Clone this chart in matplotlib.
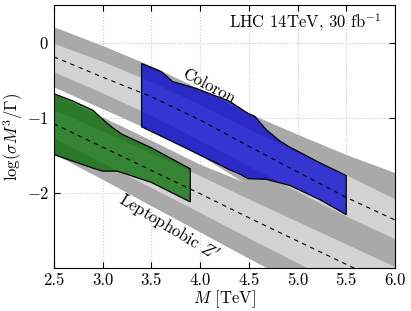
import numpy as np
import matplotlib
matplotlib.use("Agg")
from matplotlib import pyplot as plt

plt.rcParams["mathtext.fontset"] = "cm"
plt.rcParams["font.family"] = "serif"
plt.rcParams["font.serif"] = ["cmr10", "DejaVu Serif"]
plt.rcParams["axes.formatter.use_mathtext"] = True

# ---------------------------------------------------
# Bands: mass grid and band edges
# ---------------------------------------------------
mass = [2.5, 3.0, 3.5, 4.0, 4.5, 5.0, 5.5, 6.0]

col_center = [-0.19, -0.46, -0.72, -1.03, -1.38, -1.72, -2.06, -2.36]
col_dark_hi = [0.21, -0.04, -0.31, -0.62, -0.94, -1.22, -1.49, -1.73]
col_light_hi = [-0.01, -0.25, -0.52, -0.83, -1.15, -1.46, -1.76, -2.08]
col_light_lo = [-0.39, -0.67, -0.97, -1.30, -1.64, -1.98, -2.31, -2.61]
col_dark_lo = [-0.59, -0.88, -1.17, -1.50, -1.90, -2.30, -2.65, -2.95]

lep_center = [-1.08, -1.39, -1.70, -2.01, -2.33, -2.64, -2.95, -3.26]
lep_dark_hi = [-0.68, -0.99, -1.30, -1.62, -1.88, -2.15, -2.45, -2.72]
lep_light_hi = [-0.89, -1.18, -1.47, -1.77, -2.08, -2.38, -2.68, -2.98]
lep_light_lo = [-1.27, -1.60, -1.93, -2.26, -2.60, -2.93, -3.27, -3.60]
lep_dark_lo = [-1.48, -1.82, -2.17, -2.52, -2.87, -3.21, -3.56, -3.90]

# ---------------------------------------------------
# Reach regions (polygons)
# ---------------------------------------------------
col_top_m = [3.4, 3.6, 3.72, 3.96, 4.3, 4.49, 4.56, 4.68, 4.82, 4.92, 5.23, 5.5]
col_top_y = [-0.28, -0.385, -0.52, -0.61, -0.78, -0.94, -0.98, -1.16, -1.31, -1.39, -1.60, -1.77]
col_bot_m = [3.4, 3.8, 4.1, 4.3, 4.41, 4.49, 4.68, 4.92, 5.23, 5.5]
col_bot_y = [-1.12, -1.37, -1.56, -1.69, -1.75, -1.81, -1.82, -1.90, -2.09, -2.29]

lep_top_m = [2.5, 2.7, 2.9, 3.0, 3.1, 3.2, 3.5, 3.9]
lep_top_y = [-0.68, -0.78, -0.90, -1.02, -1.13, -1.22, -1.40, -1.68]
lep_bot_m = [2.5, 2.7, 2.9, 3.0, 3.15, 3.5, 3.9]
lep_bot_y = [-1.49, -1.58, -1.67, -1.71, -1.71, -1.86, -2.12]

dark_grey = "#a9a9a9"
light_grey = "#d3d3d3"

fig = plt.figure(figsize=(4.11, 3.11), dpi=100)
ax = fig.add_axes([0.131, 0.138, 0.830, 0.846])

# grey bands
ax.fill_between(mass, lep_dark_lo, lep_dark_hi, color=dark_grey, lw=0, zorder=1)
ax.fill_between(mass, lep_light_lo, lep_light_hi, color=light_grey, lw=0, zorder=1)
ax.fill_between(mass, col_dark_lo, col_dark_hi, color=dark_grey, lw=0, zorder=1)
ax.fill_between(mass, col_light_lo, col_light_hi, color=light_grey, lw=0, zorder=1)

# coloured reach regions
ax.fill(col_top_m + col_bot_m[::-1], col_top_y + col_bot_y[::-1],
        facecolor=(0, 0, 0.82, 0.75), edgecolor="black", lw=0.9, zorder=2)
ax.fill(lep_top_m + lep_bot_m[::-1], lep_top_y + lep_bot_y[::-1],
        facecolor=(0, 0.42, 0, 0.75), edgecolor="black", lw=0.9, zorder=2)

# central lines
ax.plot(mass, col_center, color="black", ls="--", lw=0.8, dashes=(4, 4), zorder=3)
ax.plot(mass, lep_center, color="black", ls="--", lw=0.8, dashes=(4, 4), zorder=3)

ax.text(4.09, -0.58, "Coloron", rotation=-28, ha="center", va="center",
        fontsize=12, zorder=4)
ax.text(3.67, -2.47, r"Leptophobic $Z'$", rotation=-31, ha="center", va="center",
        fontsize=12, zorder=4)
ax.text(5.86, 0.27, r"LHC 14TeV, 30 fb$^{-1}$", ha="right", va="center",
        fontsize=12, zorder=4)

ax.set_xlim(2.5, 6.0)
ax.set_ylim(-3.0, 0.5)
ax.set_xticks([2.5, 3.0, 3.5, 4.0, 4.5, 5.0, 5.5, 6.0])
ax.set_xticklabels(["2.5", "3.0", "3.5", "4.0", "4.5", "5.0", "5.5", "6.0"])
ax.set_yticks([-2, -1, 0])
ax.set_yticklabels([r"$-2$", r"$-1$", r"$0$"])
ax.tick_params(direction="in", top=True, right=True, labelsize=12, length=4)
ax.grid(True, color="#c8c8c8", ls=":", lw=0.8, zorder=0)
ax.set_axisbelow(True)

ax.set_xlabel(r"$M$ [TeV]", fontsize=12, labelpad=0)
ax.set_ylabel(r"$\log(\sigma M^3/\Gamma)$", fontsize=12, labelpad=1)

plt.savefig("out.png", dpi=100)
